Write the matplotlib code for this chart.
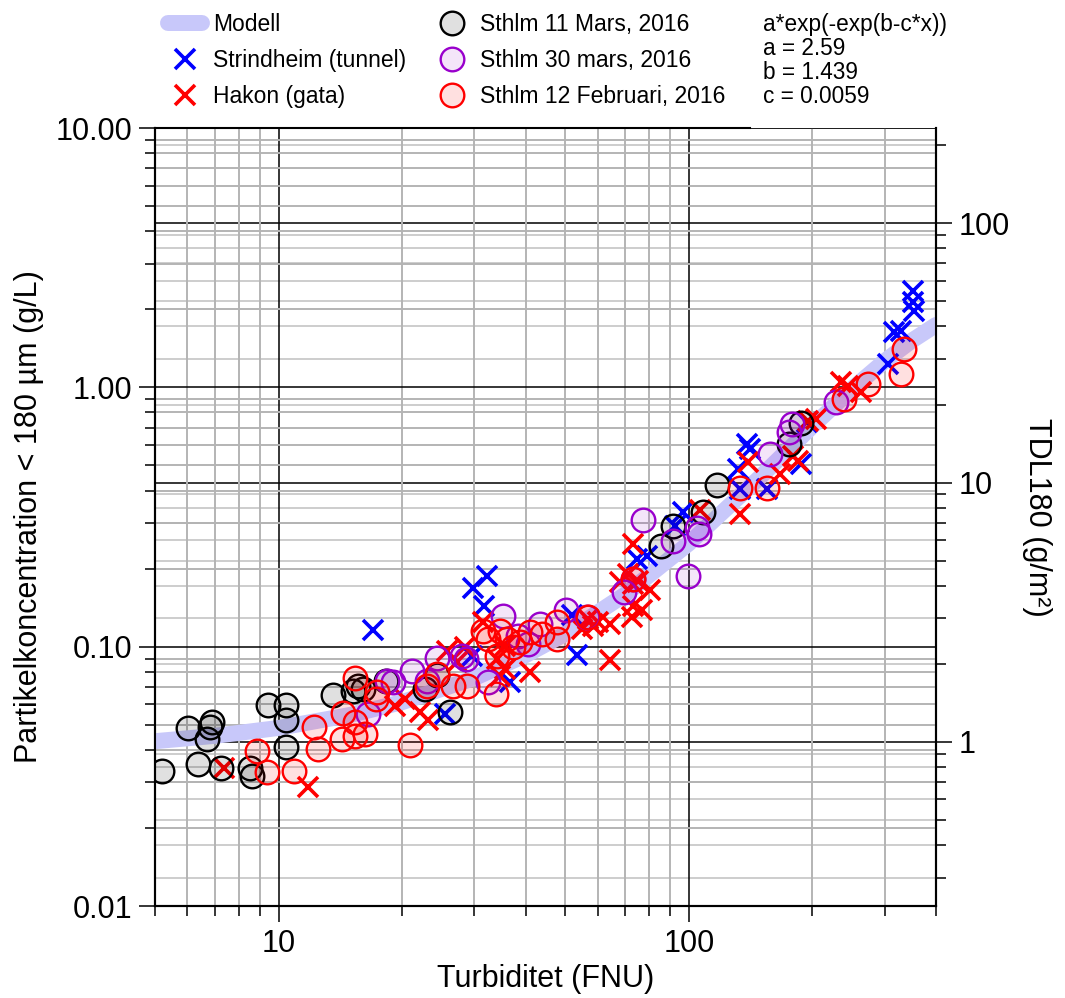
import numpy as np
import matplotlib
matplotlib.use('Agg')
from matplotlib import pyplot as plt
from matplotlib.ticker import LogLocator, NullFormatter, FormatStrFormatter

plt.rcParams['font.family'] = ['Liberation Sans', 'DejaVu Sans']

# Modell a*exp(-exp(b-c*x))
model_x = [5, 7, 10, 15, 20, 30, 40, 50, 70, 100, 150, 200, 250, 300, 350, 400]
model_y = [0.0432, 0.0453, 0.0486, 0.0546, 0.0611, 0.0757, 0.0927, 0.1122, 0.1591,
           0.2502, 0.4546, 0.7089, 0.987, 1.263, 1.517, 1.74]
formula_lines = ['a*exp(-exp(b-c*x))', 'a = 2.59', 'b = 1.439', 'c = 0.0059']

# Strindheim (tunnel)
strind_x = [16.96, 25.42, 29.6, 29.76, 31.66, 32.20, 36.64, 51.93, 53.41, 74.82, 79.15, 92.63,
            96.90, 132.0, 133.5, 138.9, 141.2, 155.4, 187.1, 193.5, 305.1, 315.5, 328.1,
            351.2, 351.2, 353.2]
strind_y = [0.116, 0.0548, 0.0918, 0.168, 0.143, 0.188, 0.0729, 0.133, 0.0926, 0.217, 0.223, 0.291,
            0.330, 0.483, 0.404, 0.603, 0.577, 0.404, 0.505, 0.733, 1.227, 1.630, 1.644,
            2.346, 2.127, 1.964]

# Hakon (gata)
hakon_x = [7.38, 11.77, 19.20, 20.31, 22.09, 23.10, 25.71, 27.20, 28.45, 31.48, 34.64, 35.63,
           41.01, 34.06, 35.63, 54.93, 56.8, 58.43, 60.09, 64.30, 64.30, 72.74, 68.01, 71.1,
           73.16, 73.16, 75.2, 76.95, 80.50, 73.16, 106.6, 133.5, 139.6, 167.1, 179.8, 184.9,
           194.6, 203.5, 234.3, 243.6, 262.0]
hakon_y = [0.0340, 0.0287, 0.0588, 0.0626, 0.0558, 0.0522, 0.0959, 0.0870, 0.0994, 0.125, 0.0768, 0.0818,
           0.0796, 0.0893, 0.101, 0.117, 0.128, 0.120, 0.125, 0.122, 0.0886, 0.130, 0.177, 0.190,
           0.248, 0.174, 0.179, 0.139, 0.166, 0.143, 0.338, 0.324, 0.514, 0.462, 0.542, 0.518,
           0.740, 0.753, 1.045, 1.009, 0.957]

# Sthlm 11 Mars, 2016
mars11_x = [5.21, 6.03, 6.38, 6.90, 6.82, 6.71, 7.26, 8.50, 8.64, 9.40, 10.40, 10.40, 10.40,
            13.55, 15.16, 15.59, 16.03, 18.25, 22.72, 24.30, 26.15, 85.62, 91.59, 108.4, 117.3,
            175.8, 187.1]
mars11_y = [0.0333, 0.0486, 0.0352, 0.0511, 0.0488, 0.0439, 0.0340, 0.0342, 0.0316, 0.0597, 0.0594,
            0.0521, 0.0409, 0.0649, 0.0672, 0.0703, 0.0684, 0.0735, 0.0684, 0.0777, 0.0558, 0.244,
            0.291, 0.330, 0.419, 0.603, 0.727]

# Sthlm 30 mars, 2016
mars30_x = [16.49, 18.35, 18.98, 21.12, 22.97, 24.30, 27.98, 28.61, 32.38, 35.23, 38.33, 40.55,
            43.38, 50.21, 56.49, 69.55, 73.16, 77.39, 91.59, 99.66, 104.8, 106.0, 157.2, 175.8,
            178.8, 227.8]
mars30_y = [0.0548, 0.0735, 0.0729, 0.0803, 0.0735, 0.0902, 0.0918, 0.0893, 0.0729, 0.131, 0.110,
            0.102, 0.122, 0.139, 0.130, 0.162, 0.182, 0.307, 0.255, 0.187, 0.288, 0.273, 0.551,
            0.671, 0.720, 0.875]

# Sthlm 12 Februari, 2016
feb12_x = [8.84, 9.35, 10.88, 12.17, 12.45, 14.25, 14.33, 15.33, 15.33, 15.33, 16.22, 17.35, 17.25,
           20.88, 22.97, 24.30, 26.60, 28.77, 31.48, 32.38, 34.06, 33.87, 34.64, 36.04, 37.27, 38.77,
           41.01, 43.87, 47.73, 47.73, 56.81, 73.16, 133.5, 155.4, 238.2, 272.6, 333.7, 328.1]
feb12_y = [0.0395, 0.0330, 0.0333, 0.0488, 0.0402, 0.0439, 0.0553, 0.0754, 0.0511, 0.0451, 0.0459,
           0.0666, 0.0626, 0.0416, 0.0703, 0.0782, 0.0703, 0.0703, 0.115, 0.107, 0.0918, 0.0655,
           0.115, 0.107, 0.100, 0.104, 0.114, 0.112, 0.124, 0.107, 0.130, 0.183, 0.408, 0.408,
           0.899, 1.027, 1.401, 1.122]

tdl_factor = 23.3  # TDL180 (g/m2) per g/L

fig = plt.figure(figsize=(10.65, 9.98), dpi=100)
ax = fig.add_axes([155/1065, 1 - 906/998, 781/1065, 778/998])
ax2 = ax.twinx()
ax.set_zorder(ax2.get_zorder() + 1)
ax.patch.set_visible(False)

ax.set_xscale('log')
ax.set_yscale('log')
ax.set_xlim(5, 400)
ax.set_ylim(0.01, 10)
ax2.set_yscale('log')
ax2.set_ylim(0.01 * tdl_factor, 10 * tdl_factor)

for a in (ax, ax2):
    a.yaxis.set_minor_locator(LogLocator(base=10, subs=np.arange(2, 10)))
    a.yaxis.set_minor_formatter(NullFormatter())
ax.xaxis.set_minor_locator(LogLocator(base=10, subs=np.arange(2, 10)))
ax.xaxis.set_minor_formatter(NullFormatter())
ax.xaxis.set_major_formatter(FormatStrFormatter('%g'))
ax.yaxis.set_major_formatter(FormatStrFormatter('%.2f'))
ax2.yaxis.set_major_formatter(FormatStrFormatter('%g'))

ax.grid(which='minor', color='#b4b4b4', lw=1.4)
ax.grid(which='major', color='black', lw=1.1)
ax2.grid(which='minor', axis='y', color='#cdcdcd', lw=1.4)
ax2.grid(which='major', axis='y', color='black', lw=1.1)

for a in (ax, ax2):
    a.tick_params(which='major', direction='out', length=11.5, width=1.1, labelsize=22, pad=5)
    a.tick_params(which='minor', direction='out', length=7, width=1.1)
    for s in a.spines.values():
        s.set_linewidth(1.5)
ax.tick_params(axis='y', right=False)
ax.tick_params(axis='x', top=False)
ax2.spines['top'].set_visible(False)
ax.spines['top'].set_bounds(5, 141)
ax.axhline(10, color='#8c8c8c', lw=1.4, zorder=0.5)

h_model, = ax.plot(model_x, model_y, color='#c8c8fa', lw=11.5, solid_capstyle='round', zorder=2)
h_strind, = ax.plot(strind_x, strind_y, 'x', ls='none', color='#0000ff', ms=14, mew=2.6, zorder=3)
h_hakon, = ax.plot(hakon_x, hakon_y, 'x', ls='none', color='#ff0000', ms=14, mew=2.6, zorder=3)
h_mars11, = ax.plot(mars11_x, mars11_y, 'o', ls='none', ms=17, mew=1.7,
                    mec='black', mfc=(0, 0, 0, 0.12), zorder=4)
h_mars30, = ax.plot(mars30_x, mars30_y, 'o', ls='none', ms=17, mew=1.7,
                    mec='#9900cc', mfc=(0.6, 0, 0.8, 0.1), zorder=4)
h_feb12, = ax.plot(feb12_x, feb12_y, 'o', ls='none', ms=17, mew=1.7,
                   mec='#ff0000', mfc=(1, 0, 0, 0.12), zorder=4)

ax.set_xlabel('Turbiditet (FNU)', fontsize=22, labelpad=4)
ax.set_ylabel('Partikelkoncentration < 180 µm (g/L)', fontsize=22, labelpad=8)
ax2.set_ylabel('TDL180 (g/m²)', fontsize=22, rotation=270, labelpad=30)

labels = ['Modell', 'Strindheim (tunnel)', 'Hakon (gata)',
          'Sthlm 11 Mars, 2016', 'Sthlm 30 mars, 2016', 'Sthlm 12 Februari, 2016']
fig.legend([h_model, h_strind, h_hakon, h_mars11, h_mars30, h_feb12], labels,
           ncol=2, loc='upper left', bbox_to_anchor=(168/1065, 1 - 13/998), frameon=False,
           fontsize=16.5, handlelength=1.5, handletextpad=0.48, columnspacing=1.22,
           labelspacing=0.57, borderpad=0, borderaxespad=0)

for i, line in enumerate(formula_lines):
    fig.text(763/1065, 1 - (24 + 24.3*i)/998, line, fontsize=16.3, va='center', ha='left')

fig.savefig('out.png', dpi=100)
